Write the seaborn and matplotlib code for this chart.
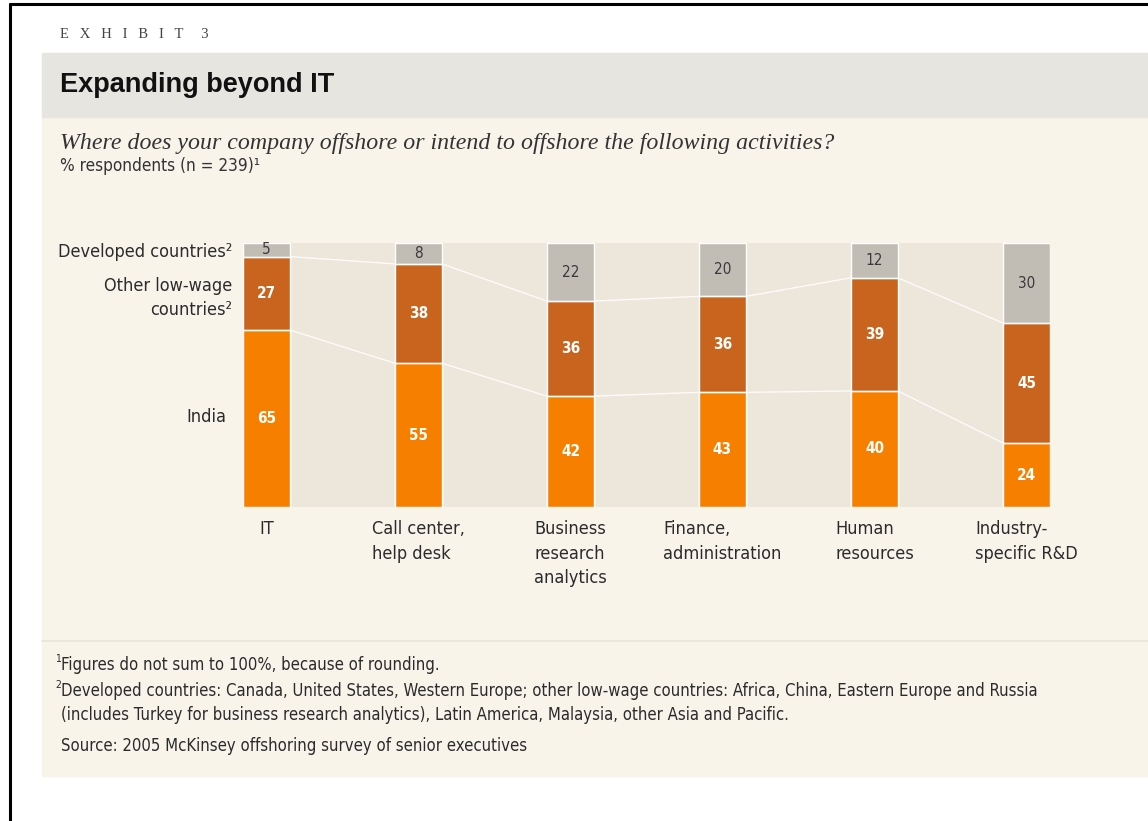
import matplotlib
matplotlib.use("Agg")
import matplotlib.pyplot as plt
from matplotlib.patches import Rectangle
from matplotlib.lines import Line2D
import numpy as np
import pandas as pd
import seaborn as sns

# ---- data -------------------------------------------------------------
activities = ["IT", "Call center,\nhelp desk", "Business\nresearch\nanalytics",
              "Finance,\nadministration", "Human\nresources", "Industry-\nspecific R&D"]
india = [65, 55, 42, 43, 40, 24]
other_low_wage = [27, 38, 36, 36, 39, 45]
developed = [5, 8, 22, 20, 12, 30]

segment_names = ["Developed countries²", "Other low-wage\ncountries²", "India"]

# ---- style ------------------------------------------------------------
sns.set_theme(style="white")
plt.rcParams["font.family"] = ["DejaVu Sans"]
plt.rcParams["font.stretch"] = "condensed"

C_INDIA = "#f77f00"
C_OTHER = "#c9641e"
C_DEV = "#c1bdb5"
C_PLOT_BG = "#ece6db"
C_PANEL = "#f8f4ea"
C_BAND = "#e6e5df"
C_TEXT = "#2b2b2b"

W, H = 1148, 821
fig = plt.figure(figsize=(W / 100, H / 100), dpi=100)
fig.patch.set_facecolor("white")


def fx(px):
    return px / W


def fy(py):
    return 1 - py / H


# page panels
fig.patches.append(Rectangle((fx(42), fy(776)), fx(W) - fx(42), fy(117) - fy(776),
                             transform=fig.transFigure, color=C_PANEL, zorder=-2))
fig.patches.append(Rectangle((fx(42), fy(117)), fx(W) - fx(42), fy(53) - fy(117),
                             transform=fig.transFigure, color=C_BAND, zorder=-2))
fig.lines.append(Line2D([fx(42), fx(W)], [fy(641), fy(641)], transform=fig.transFigure,
                        color="#e9e5dc", lw=1.2, zorder=-1))
# outer frame
fig.lines.append(Line2D([fx(10), fx(W)], [fy(4.5), fy(4.5)], transform=fig.transFigure,
                        color="black", lw=2.2, zorder=5))
fig.lines.append(Line2D([fx(10), fx(10)], [fy(4.5), 0], transform=fig.transFigure,
                        color="black", lw=2.2, zorder=5))

# ---- stacked bars -----------------------------------------------------
totals = np.array(india) + np.array(other_low_wage) + np.array(developed)
share_india = np.array(india) / totals * 100
share_low = (np.array(india) + np.array(other_low_wage)) / totals * 100
share_all = totals / totals * 100

df = pd.DataFrame({
    "activity": activities,
    "all": share_all,
    "low": share_low,
    "india": share_india,
})

ax = fig.add_axes([fx(243), fy(507), fx(1050) - fx(243), fy(243) - fy(507)])
ax.set_zorder(2)
ax.set_facecolor(C_PLOT_BG)
bw = 0.31
sns.barplot(data=df, x="activity", y="all", color=C_DEV, width=bw, saturation=1,
            ax=ax, zorder=2)
sns.barplot(data=df, x="activity", y="low", color=C_OTHER, width=bw, saturation=1,
            ax=ax, zorder=3)
sns.barplot(data=df, x="activity", y="india", color=C_INDIA, width=bw, saturation=1,
            ax=ax, zorder=4)
ax.set_xlim(-0.155, len(activities) - 1 + 0.155)
ax.set_ylim(0, 100)
ax.set_xlabel("")
ax.set_ylabel("")
ax.set_xticks([])
ax.set_yticks([])
for s in ax.spines.values():
    s.set_visible(False)

xs = np.arange(len(activities))
# segment boundaries and connectors between neighbouring bars
for level in (share_india, share_low):
    for i in xs:
        ax.plot([i - bw / 2, i + bw / 2], [level[i], level[i]], color="white",
                lw=1.0, alpha=0.9, zorder=5)
    for i in xs[:-1]:
        ax.plot([i + bw / 2, i + 1 - bw / 2], [level[i], level[i + 1]], color="white",
                lw=1.0, alpha=0.85, zorder=1.5)

# value labels
for i in xs:
    ax.text(i, share_india[i] / 2, str(india[i]), ha="center", va="center",
            color="white", fontsize=11, fontweight="bold", zorder=6)
    ax.text(i, (share_india[i] + share_low[i]) / 2, str(other_low_wage[i]), ha="center",
            va="center", color="white", fontsize=11, fontweight="bold", zorder=6)
    ax.text(i, (share_low[i] + 100) / 2, str(developed[i]), ha="center", va="center",
            color="#3a3a3a", fontsize=11, zorder=6)

# category labels under the bars
for i, name in zip(xs, activities):
    ax.text(i, -5, name, ha="center", va="top", multialignment="left",
            fontsize=13, color=C_TEXT, linespacing=1.45)

# segment labels on the left
fig.text(fx(232), fy(252), segment_names[0], ha="right", va="center",
         fontsize=13, color=C_TEXT)
fig.text(fx(232), fy(298), segment_names[1], ha="right", va="center",
         fontsize=13, color=C_TEXT, linespacing=1.45)
fig.text(fx(226), fy(417), segment_names[2], ha="right", va="center",
         fontsize=13, color=C_TEXT)

# ---- headings ---------------------------------------------------------
fig.text(fx(60), fy(35), "E   X   H   I   B   I   T     3", ha="left", va="center",
         family=["Liberation Serif", "DejaVu Serif"], fontstretch="normal",
         fontsize=10.5, color="#444444")
fig.text(fx(60), fy(85), "Expanding beyond IT", ha="left", va="center",
         family=["Liberation Sans", "DejaVu Sans"], fontstretch="normal",
         fontweight="bold", fontsize=19.5, color="#111111")
fig.text(fx(60), fy(144),
         "Where does your company offshore or intend to offshore the following activities?",
         ha="left", va="center", family=["Liberation Serif", "DejaVu Serif"],
         fontstretch="normal", style="italic", fontsize=17.2, color="#333333")
fig.text(fx(60), fy(166), "% respondents (n = 239)¹", ha="left", va="center",
         fontsize=12.3, color="#333333")

# ---- footnotes --------------------------------------------------------
foot_kw = dict(ha="left", va="center", fontsize=12, color=C_TEXT)
fig.text(fx(55), fy(659), "1", fontsize=7.5, ha="left", va="center", color=C_TEXT)
fig.text(fx(61), fy(665), "Figures do not sum to 100%, because of rounding.", **foot_kw)
fig.text(fx(55), fy(685), "2", fontsize=7.5, ha="left", va="center", color=C_TEXT)
fig.text(fx(61), fy(691),
         "Developed countries: Canada, United States, Western Europe; other low-wage countries: "
         "Africa, China, Eastern Europe and Russia", **foot_kw)
fig.text(fx(61), fy(715),
         "(includes Turkey for business research analytics), Latin America, Malaysia, "
         "other Asia and Pacific.", **foot_kw)
fig.text(fx(61), fy(746), "Source: 2005 McKinsey offshoring survey of senior executives",
         **foot_kw)

fig.savefig("out.png", dpi=100, facecolor=fig.get_facecolor())
